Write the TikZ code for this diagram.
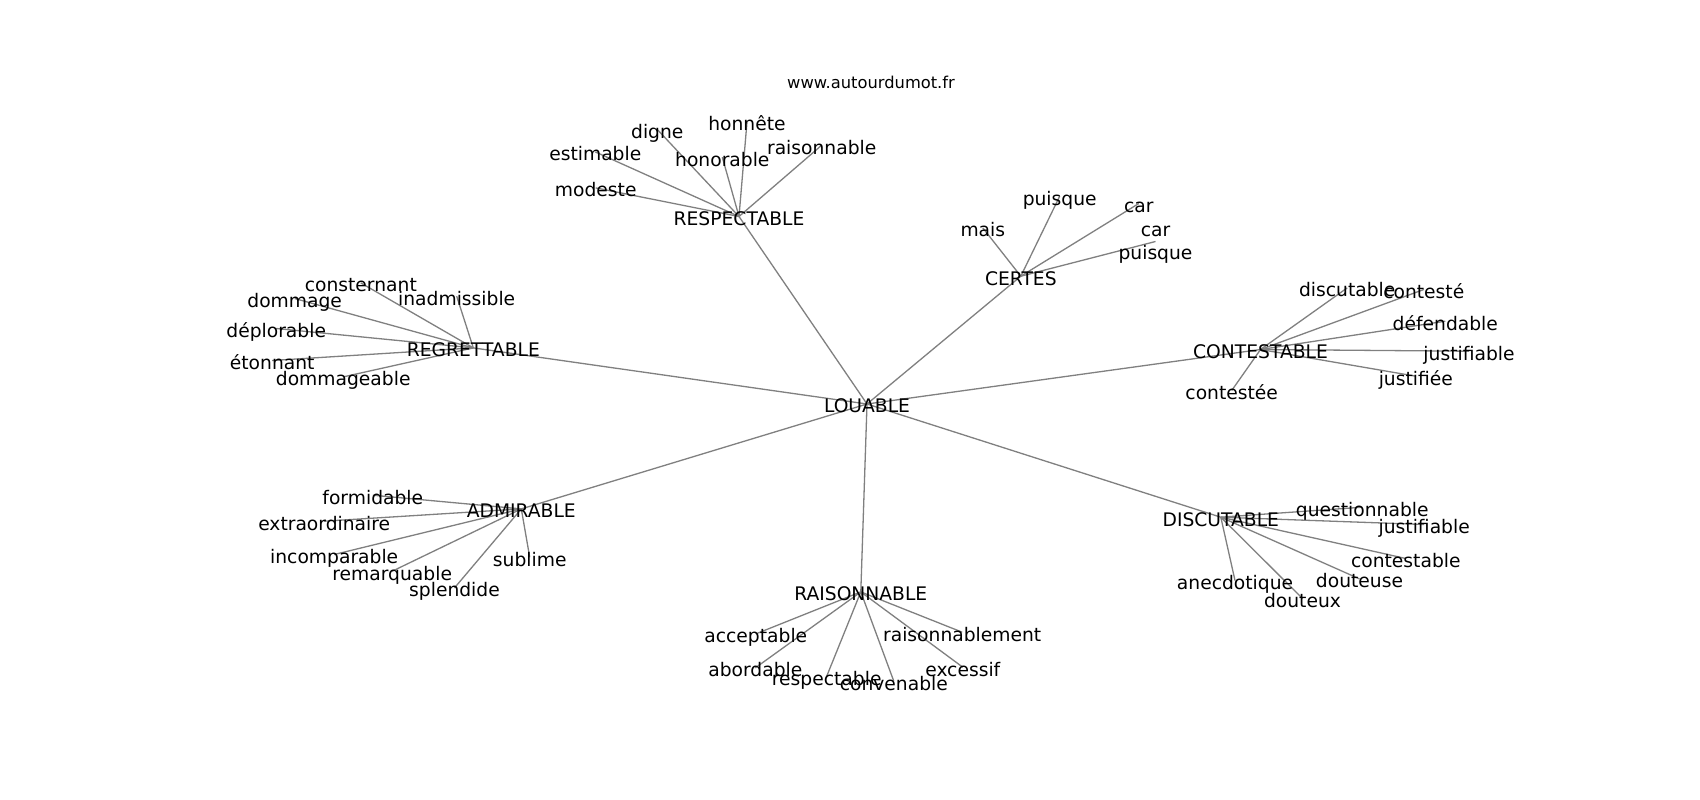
\documentclass[tikz,border=0pt]{standalone}
\usepackage{fontspec}
\setmainfont{DejaVu Sans}
\definecolor{edgegray}{RGB}{128,128,128}
\begin{document}
\begin{tikzpicture}[x=1bp,y=-1bp,
  edge/.style={draw=edgegray, line width=1.3bp},
  lbl/.style={anchor=base, yshift=-8.8bp, inner sep=0pt, font=\fontsize{18.7bp}{22.4bp}\selectfont, text=black},
  ttl/.style={anchor=base, inner sep=0pt, font=\fontsize{16.3bp}{19.6bp}\selectfont, text=black}]
\fill[white] (0,0) rectangle (1700,800);
\useasboundingbox (0,0) rectangle (1700,800);
% hubs
\coordinate (louable) at (867,404);
\coordinate (respectable) at (739,216.5);
\coordinate (certes) at (1020.8,276.2);
\coordinate (regrettable) at (473.3,347.9);
\coordinate (contestable) at (1260.5,349.5);
\coordinate (admirable) at (521.3,508.9);
\coordinate (discutable) at (1220.8,517.2);
\coordinate (raisonnable) at (860.8,591.9);
% RESPECTABLE leaves
\coordinate (modeste) at (595.7,187.9);
\coordinate (estimable) at (595.3,151.9);
\coordinate (digne) at (657.3,129.5);
\coordinate (honorable) at (722.3,157.2);
\coordinate (honnete) at (747,121.9);
\coordinate (raisonnableA) at (821.7,145.2);
% CERTES leaves
\coordinate (mais) at (982.8,227.9);
\coordinate (puisque) at (1059.7,196.2);
\coordinate (car) at (1138.8,203.5);
\coordinate (carpuisque) at (1155.5,241.5);
% REGRETTABLE leaves
\coordinate (consternant) at (360.8,282.9);
\coordinate (dommage) at (294.7,298.5);
\coordinate (inadmissible) at (456.7,296.2);
\coordinate (deplorable) at (276.2,328.5);
\coordinate (etonnant) at (272.2,360.5);
\coordinate (dommageable) at (343.2,376.9);
% CONTESTABLE leaves
\coordinate (discutableA) at (1347.2,287.9);
\coordinate (conteste) at (1423.8,289.5);
\coordinate (defendable) at (1445.3,321.2);
\coordinate (justifiableA) at (1469,351.2);
\coordinate (justifiee) at (1415.8,376.2);
\coordinate (contestee) at (1231.7,390.5);
% ADMIRABLE leaves
\coordinate (formidable) at (372.8,495.2);
\coordinate (extraordinaire) at (324.2,521.2);
\coordinate (incomparable) at (334.2,554.5);
\coordinate (sublime) at (529.7,557.2);
\coordinate (remarquable) at (392.2,571.2);
\coordinate (splendide) at (454.5,587.9);
% DISCUTABLE leaves
\coordinate (questionnable) at (1362.2,507.2);
\coordinate (justifiableB) at (1424.2,524.5);
\coordinate (contestableB) at (1405.8,558.5);
\coordinate (anecdotique) at (1235,580.5);
\coordinate (douteuse) at (1359.5,578.9);
\coordinate (douteux) at (1302.5,598.5);
% RAISONNABLE leaves
\coordinate (acceptable) at (755.8,633.9);
\coordinate (raisonnablement) at (962.2,632.2);
\coordinate (abordable) at (755.3,667.9);
\coordinate (excessif) at (962.8,667.2);
\coordinate (respectableB) at (826.7,676.2);
\coordinate (convenable) at (893.8,681.2);
% edges
\foreach \h in {respectable,certes,regrettable,contestable,admirable,discutable,raisonnable}
  \draw[edge] (louable) -- (\h);
\foreach \l in {modeste,estimable,digne,honorable,honnete,raisonnableA}
  \draw[edge] (respectable) -- (\l);
\foreach \l in {mais,puisque,car,carpuisque}
  \draw[edge] (certes) -- (\l);
\foreach \l in {consternant,dommage,inadmissible,deplorable,etonnant,dommageable}
  \draw[edge] (regrettable) -- (\l);
\foreach \l in {discutableA,conteste,defendable,justifiableA,justifiee,contestee}
  \draw[edge] (contestable) -- (\l);
\foreach \l in {formidable,extraordinaire,incomparable,sublime,remarquable,splendide}
  \draw[edge] (admirable) -- (\l);
\foreach \l in {questionnable,justifiableB,contestableB,anecdotique,douteuse,douteux}
  \draw[edge] (discutable) -- (\l);
\foreach \l in {acceptable,raisonnablement,abordable,excessif,respectableB,convenable}
  \draw[edge] (raisonnable) -- (\l);
% labels
\node[ttl] (title) at (871,88) {www.autourdumot.fr};
\node[lbl] (t-louable) at (louable) {LOUABLE};
\node[lbl] (t-respectable) at (respectable) {RESPECTABLE};
\node[lbl] (t-certes) at (certes) {CERTES};
\node[lbl] (t-regrettable) at (regrettable) {REGRETTABLE};
\node[lbl] (t-contestable) at (contestable) {CONTESTABLE};
\node[lbl] (t-admirable) at (admirable) {ADMIRABLE};
\node[lbl] (t-discutable) at (discutable) {DISCUTABLE};
\node[lbl] (t-raisonnable) at (raisonnable) {RAISONNABLE};
\node[lbl] (t-modeste) at (modeste) {modeste};
\node[lbl] (t-estimable) at (estimable) {estimable};
\node[lbl] (t-digne) at (digne) {digne};
\node[lbl] (t-honorable) at (honorable) {honorable};
\node[lbl] (t-honnete) at (honnete) {honnête};
\node[lbl] (t-raisonnableA) at (raisonnableA) {raisonnable};
\node[lbl] (t-mais) at (mais) {mais};
\node[lbl] (t-puisque) at (puisque) {puisque};
\node[lbl] (t-car) at (car) {car};
\node[lbl] (t-carpuisque1) at ([yshift=13.6bp]carpuisque) {car};
\node[lbl] (t-carpuisque2) at ([yshift=-8.7bp]carpuisque) {puisque};
\node[lbl] (t-consternant) at (consternant) {consternant};
\node[lbl] (t-dommage) at (dommage) {dommage};
\node[lbl] (t-inadmissible) at (inadmissible) {inadmissible};
\node[lbl] (t-deplorable) at (deplorable) {déplorable};
\node[lbl] (t-etonnant) at (etonnant) {étonnant};
\node[lbl] (t-dommageable) at (dommageable) {dommageable};
\node[lbl] (t-discutableA) at (discutableA) {discutable};
\node[lbl] (t-conteste) at (conteste) {contesté};
\node[lbl] (t-defendable) at (defendable) {défendable};
\node[lbl] (t-justifiableA) at (justifiableA) {justifiable};
\node[lbl] (t-justifiee) at (justifiee) {justifiée};
\node[lbl] (t-contestee) at (contestee) {contestée};
\node[lbl] (t-formidable) at (formidable) {formidable};
\node[lbl] (t-extraordinaire) at (extraordinaire) {extraordinaire};
\node[lbl] (t-incomparable) at (incomparable) {incomparable};
\node[lbl] (t-sublime) at (sublime) {sublime};
\node[lbl] (t-remarquable) at (remarquable) {remarquable};
\node[lbl] (t-splendide) at (splendide) {splendide};
\node[lbl] (t-questionnable) at (questionnable) {questionnable};
\node[lbl] (t-justifiableB) at (justifiableB) {justifiable};
\node[lbl] (t-contestableB) at (contestableB) {contestable};
\node[lbl] (t-anecdotique) at (anecdotique) {anecdotique};
\node[lbl] (t-douteuse) at (douteuse) {douteuse};
\node[lbl] (t-douteux) at (douteux) {douteux};
\node[lbl] (t-acceptable) at (acceptable) {acceptable};
\node[lbl] (t-raisonnablement) at (raisonnablement) {raisonnablement};
\node[lbl] (t-abordable) at (abordable) {abordable};
\node[lbl] (t-excessif) at (excessif) {excessif};
\node[lbl] (t-respectableB) at (respectableB) {respectable};
\node[lbl] (t-convenable) at (convenable) {convenable};
\end{tikzpicture}
\end{document}
